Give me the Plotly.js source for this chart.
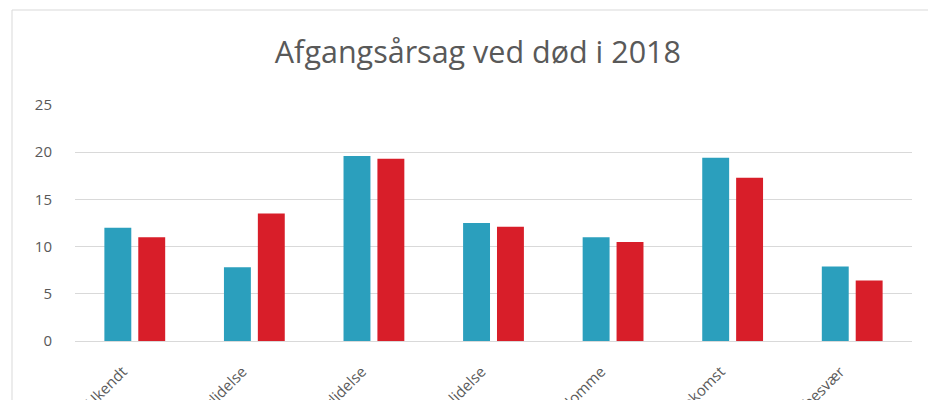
<!DOCTYPE html>
<html>
<head>
<meta charset="utf-8">
<script src="https://cdn.plot.ly/plotly-3.0.1.min.js"></script>
<style>
html,body{margin:0;padding:0;background:#fff;overflow:hidden;}
#chart{width:928px;height:400px;}
</style>
</head>
<body>
<div id="chart"></div>
<script>
var categories = ["Ukendt", "Yverlidelse", "Klovlidelse", "Benlidelse", "Stofskiftesygdomme", "Ulykke/tilskadekomst", "Kælvningsbesvær"];
var series1Values = [12.0, 7.8, 19.6, 12.5, 11.0, 19.4, 7.9];
var series2Values = [11.0, 13.5, 19.3, 12.1, 10.5, 17.3, 6.4];
var yTickValues = [0, 5, 10, 15, 20, 25];

var fontFam = "Open Sans, Noto Sans, sans-serif";
var traces = [
  {type: "bar", x: categories, y: series1Values, name: "Serie 1",
   marker: {color: "#2B9FBD"}},
  {type: "bar", x: categories, y: series2Values, name: "Serie 2",
   marker: {color: "#D81E29"}}
];
var layout = {
  width: 928, height: 400,
  margin: {l: 75, r: 16, t: 105, b: 59, pad: 0},
  paper_bgcolor: "#ffffff", plot_bgcolor: "#ffffff",
  showlegend: false,
  barmode: "group", bargap: 0.433, bargroupgap: 0.206,
  title: {text: "Afgangsårsag ved død i 2018", x: 0.515, xanchor: "center", y: 0.87, yanchor: "middle",
          font: {family: fontFam, size: 30.5, color: "#595959"}},
  xaxis: {type: "category", tickangle: -45, showgrid: false, zeroline: false, showline: false,
          ticks: "", ticklabelstandoff: 18, ticklabelshift: -12,
          tickfont: {family: fontFam, size: 15, color: "#595959"}},
  yaxis: {range: [0, 25], tickvals: yTickValues, ticktext: yTickValues.map(String),
          showgrid: true, gridcolor: "#D9D9D9", gridwidth: 1, zeroline: true, zerolinecolor: "#D9D9D9",
          showline: false, ticks: "", ticklabelstandoff: 22,
          tickfont: {family: fontFam, size: 15, color: "#595959"}},
  shapes: [
    {type: "line", xref: "paper", yref: "paper", x0: (12-75)/837, x1: (12-75)/837, y0: (341-10)/236, y1: -1,
     line: {color: "#D9D9D9", width: 1}},
    {type: "line", xref: "paper", yref: "paper", x0: (12-75)/837, x1: 1.2, y0: (341-10)/236, y1: (341-10)/236,
     line: {color: "#D9D9D9", width: 1}}
  ]
};
Plotly.newPlot("chart", traces, layout, {displayModeBar: false, staticPlot: true});
</script>
</body>
</html>
